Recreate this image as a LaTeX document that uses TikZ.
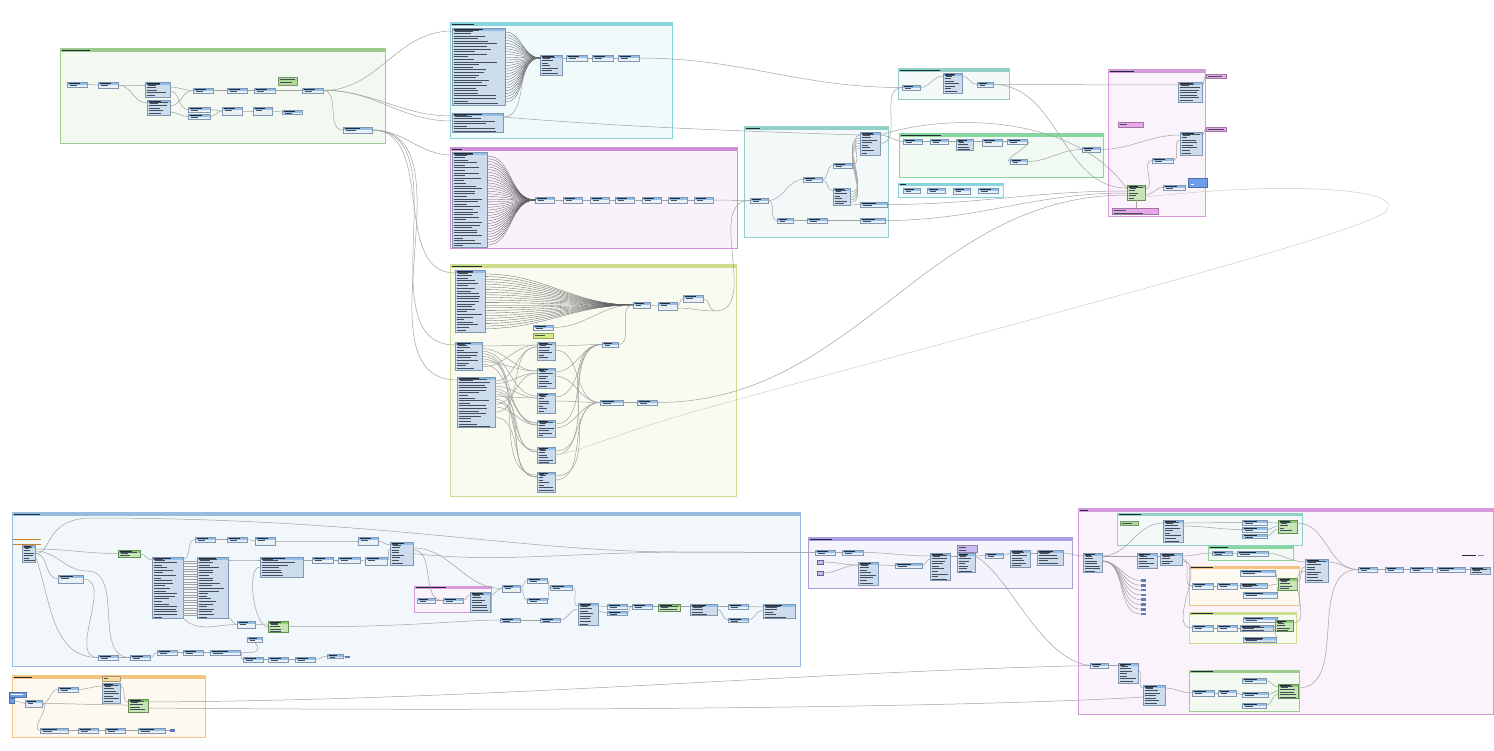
\documentclass[tikz,border=0pt]{standalone}
\usetikzlibrary{positioning}

\definecolor{xfhead}{HTML}{92BFE9}
\definecolor{xfbody}{HTML}{EAF0F6}
\definecolor{lstbody}{HTML}{CCDCEC}
\definecolor{xfline}{HTML}{7F97B2}
\definecolor{xfink}{HTML}{1E2A3A}
\definecolor{xfrow}{HTML}{444D5A}
\definecolor{gnhead}{HTML}{8CCB74}
\definecolor{gnbody}{HTML}{C6E4B4}
\definecolor{wirecol}{HTML}{A2A2A2}
\definecolor{fancol}{HTML}{5E5E5E}
\definecolor{gGreen}{HTML}{9DCB8B}
\definecolor{gCyan}{HTML}{88D3DE}
\definecolor{gMagenta}{HTML}{CF8FD6}
\definecolor{gLime}{HTML}{CCDD8E}
\definecolor{gTeal}{HTML}{90D0C7}
\definecolor{gMint}{HTML}{86D69E}
\definecolor{gBlue}{HTML}{96BCE0}
\definecolor{gPurple}{HTML}{AA9EE0}
\definecolor{gOrange}{HTML}{F2C47F}
\definecolor{gPink}{HTML}{D699DB}
\definecolor{noteGreen}{HTML}{AED895}
\definecolor{notePink}{HTML}{E6A8E8}
\definecolor{noteLime}{HTML}{D8EA86}
\definecolor{notePurple}{HTML}{C9BBF1}
\definecolor{noteOrange}{HTML}{F7DCA6}
\definecolor{btnblue}{HTML}{6E9EEA}
\definecolor{stubcol}{HTML}{5D7FB5}

% header band and text strokes of a transformer
\newcommand\headstrip[2]{%
  \fill[#1] (path picture bounding box.north west) rectangle ([yshift=-2.6pt]path picture bounding box.north east);
  \draw[xfink, line width=0.9pt] ([xshift=1.5pt,yshift=-1.3pt]path picture bounding box.north west) -- ++({0.55*#2*1pt},0pt);
  \draw[xfrow, line width=0.8pt] ([xshift=2.5pt,yshift=-3.8pt]path picture bounding box.north west) -- ++({0.35*#2*1pt},0pt);}
% attribute rows of a list
\newcommand\rowstrips[2]{%
  \foreach \k in {1,...,36}{\draw[xfrow, line width=0.95pt] ([xshift=1.5pt,yshift={-(#2+\k*2.6)*1pt}]path picture bounding box.north west) -- ++({(0.25+0.6*rnd)*#1*1pt},0pt);}}

\tikzset{
  wire/.style={draw=wirecol, line width=0.5pt},
  fan/.style={draw=fancol, line width=0.3pt},
  grpbox/.style={draw=#1, line width=1pt, fill=#1!12},
  xfbox/.style n args={2}{rectangle, draw=xfline, line width=0.3pt, inner sep=0pt, outer sep=0pt, anchor=north west, minimum width=#1pt, minimum height=#2pt},
  xf/.style n args={2}{xfbox={#1}{#2}, fill=xfbody, path picture={\headstrip{xfhead}{#1}}},
  lst/.style n args={2}{xfbox={#1}{#2}, fill=lstbody, path picture={\headstrip{xfhead}{#1}\rowstrips{#1}{0.3}}},
  gxf/.style n args={2}{xfbox={#1}{#2}, draw=gnhead!70!black, fill=gnbody, path picture={\headstrip{gnhead}{#1}\rowstrips{#1}{0.3}}},
  note/.style n args={3}{xfbox={#1}{#2}, draw=#3!70!black, fill=#3, path picture={\rowstrips{#1}{-2.4}}},
  bluebtn/.style n args={2}{xfbox={#1}{#2}, draw=btnblue!70!black, fill=btnblue},
  icon/.style={xfbox={6}{4}, draw=gPurple!60!black, fill=notePurple},
  stubnode/.style={rectangle, fill=stubcol, inner sep=0pt, minimum width=5pt, minimum height=2.5pt, anchor=west},
}

\begin{document}
\begin{tikzpicture}[x=1pt, y=-1pt]
	\useasboundingbox (0,0) rectangle (1494,750);
	\fill[white] (0,0) rectangle (1494,750);

	% groups
	\draw[grpbox=gGreen] (60,48) rectangle (385,143);
	\fill[gGreen] (60,48) rectangle (385,51.5);
	\draw[grpbox=gCyan] (450,22) rectangle (672,138);
	\fill[gCyan] (450,22) rectangle (672,25.5);
	\draw[grpbox=gMagenta] (450,147) rectangle (737,248);
	\fill[gMagenta] (450,147) rectangle (737,150.5);
	\draw[grpbox=gLime] (450,264) rectangle (736,496);
	\fill[gLime] (450,264) rectangle (736,267.5);
	\draw[grpbox=gTeal] (744,126) rectangle (888,237);
	\fill[gTeal] (744,126) rectangle (888,129.5);
	\draw[grpbox=gTeal] (898,68) rectangle (1009,99);
	\fill[gTeal] (898,68) rectangle (1009,71.5);
	\draw[grpbox=gMint] (899,133) rectangle (1103,177);
	\fill[gMint] (899,133) rectangle (1103,136.5);
	\draw[grpbox=gCyan] (898,183) rectangle (1003,197);
	\fill[gCyan] (898,183) rectangle (1003,186);
	\draw[grpbox=gPink] (1108,69) rectangle (1205,216);
	\fill[gPink] (1108,69) rectangle (1205,72.5);
	\draw[grpbox=gBlue] (12,512) rectangle (800,666);
	\fill[gBlue] (12,512) rectangle (800,515.5);
	\draw[grpbox=gPink] (414,586) rectangle (491,612);
	\fill[gPink] (414,586) rectangle (491,589);
	\draw[grpbox=gPurple] (808,537) rectangle (1072,588);
	\fill[gPurple] (808,537) rectangle (1072,540.5);
	\draw[grpbox=gPink] (1078,508) rectangle (1493,714);
	\fill[gPink] (1078,508) rectangle (1493,511.5);
	\draw[grpbox=gTeal] (1117,513) rectangle (1302,545);
	\fill[gTeal] (1117,513) rectangle (1302,516);
	\draw[grpbox=gMint] (1208,546) rectangle (1293,560);
	\fill[gMint] (1208,546) rectangle (1293,549);
	\draw[grpbox=gOrange] (1189,566) rectangle (1299,605);
	\fill[gOrange] (1189,566) rectangle (1299,569);
	\draw[grpbox=gLime] (1189,612) rectangle (1296,643);
	\fill[gLime] (1189,612) rectangle (1296,615);
	\draw[grpbox=gGreen] (1189,670) rectangle (1299,711);
	\fill[gGreen] (1189,670) rectangle (1299,673);
	\draw[grpbox=gOrange] (12,675) rectangle (205,737);
	\fill[gOrange] (12,675) rectangle (205,678.5);
	\foreach \gx/\gy/\gl in {62/49.8/28, 452/23.8/22, 452/148.8/10, 452/265.8/30, 746/127.8/14, 900/69.8/40, 901/134.8/40, 900/184.5/6, 1110/70.8/24, 14/513.8/26, 416/587.5/30, 810/538.8/22, 1080/509.8/8, 1119/514.5/22, 1210/547.5/18, 1191/567.5/22, 1191/613.5/22, 1191/671.5/22, 14/676.8/18}
		\draw[xfink, line width=0.6pt] (\gx,\gy) -- ++(\gl pt,0pt);

	% top left
	\node[xf={20}{5}] (a1) at (67,82) {};
	\node[xf={20}{6}] (a2) at (98,82) {};
	\node[lst={25}{15}] (a3) at (145,82) {};
	\node[lst={23}{15}] (a4) at (147,100) {};
	\node[xf={20}{5}] (a5) at (193,88) {};
	\node[xf={20}{5}] (a6) at (227,88) {};
	\node[xf={21}{5}] (a7) at (254,88) {};
	\node[note={19}{8}{noteGreen}] (a8) at (278,77) {};
	\node[xf={21}{5}] (a9) at (302,88) {};
	\node[xf={22}{5}] (a10) at (188,107) {};
	\node[xf={22}{5}] (a11) at (188,114) {};
	\node[xf={20}{8}] (a12) at (222,107) {};
	\node[xf={19}{8}] (a13) at (253,107) {};
	\node[xf={20}{4}] (a14) at (282,110) {};
	\node[xf={29}{6}] (a15) at (343,127) {};

	\draw[wire] (a1.east) to[out=0,in=180] (a2.west);
	\draw[wire] (a2.east) to[out=0,in=180] ([yshift=-3pt]a3.north west);
	\draw[wire] (a2.east) to[out=0,in=180] ([yshift=-3pt]a4.north west);
	\draw[wire] ([yshift=-5pt]a3.north east) to[out=0,in=180] (a5.west);
	\draw[wire] ([yshift=-9pt]a3.north east) to[out=0,in=180] (a10.west);
	\draw[wire] ([yshift=-6pt]a4.north east) to[out=0,in=180] (a5.west);
	\draw[wire] ([yshift=-12pt]a4.north east) to[out=0,in=180] (a11.west);
	\draw[wire] (a5.east) to[out=0,in=180] (a6.west);
	\draw[wire] (a6.east) to[out=0,in=180] (a7.west);
	\draw[wire] (a7.east) to[out=0,in=180] (a9.west);
	\draw[wire] (a10.east) to[out=0,in=180] (a12.west);
	\draw[wire] (a11.east) to[out=0,in=180] (a12.west);
	\draw[wire] (a12.east) to[out=0,in=180] (a13.west);
	\draw[wire] (a13.east) to[out=0,in=180] (a14.west);
	\draw[wire] (a9.east) to[out=0,in=180] (a15.west);

	% cyan
	\node[lst={53}{77}] (c1) at (452,28) {};
	\node[lst={51}{19}] (c2) at (452,113) {};
	\node[lst={22}{20}] (c3) at (540,55) {};
	\node[xf={21}{6}] (c4) at (566,55) {};
	\node[xf={21}{6}] (c5) at (592,55) {};
	\node[xf={21}{6}] (c6) at (618,55) {};
	\foreach \k in {0,...,25}
		\draw[fan] ([yshift={-(4+\k*2.8)*1pt}]c1.north east) to[out=0,in=180] ([yshift=-3pt]c3.north west);
	\draw[wire] ([yshift=-4pt]c2.north east) to[out=0,in=180] ([yshift=-3pt]c3.north west);
	\draw[wire] (c3.east |- c4.west) -- (c4.west);
	\draw[wire] (c4.east) -- (c5.west);
	\draw[wire] (c5.east) -- (c6.west);

	% magenta
	\node[lst={35}{95}] (m0) at (452,152) {};
	\foreach \i/\mx in {1/535,2/563,3/590,4/615,5/642,6/668,7/694}
		\node[xf={19}{6}] (m\i) at (\mx,197) {};
	\foreach \k in {0,...,33}
		\draw[fan] ([yshift={-(4+\k*2.7)*1pt}]m0.north east) to[out=0,in=180] (m1.west);
	\foreach \i/\j in {1/2,2/3,3/4,4/5,5/6,6/7}
		\draw[wire] (m\i.east) -- (m\j.west);

	% lime
	\node[lst={30}{62}] (y1) at (455,270) {};
	\node[xf={20}{5}] (y2) at (533,325) {};
	\node[note={20}{5}{noteLime}] (y3) at (533,333) {};
	\node[lst={27}{28}] (y4) at (455,342) {};
	\node[lst={38}{50}] (y5) at (457,377) {};
	\node[lst={18}{18}] (k1) at (537,342) {};
	\node[lst={18}{20}] (k2) at (537,368) {};
	\node[lst={18}{20}] (k3) at (537,393) {};
	\node[lst={18}{17}] (k4) at (537,420) {};
	\node[lst={18}{16}] (k5) at (537,447) {};
	\node[lst={18}{20}] (k6) at (537,472) {};
	\node[xf={16}{5}] (y6) at (602,342) {};
	\node[xf={23}{5}] (y7) at (600,400) {};
	\node[xf={20}{5}] (y8) at (637,400) {};
	\node[xf={17}{6}] (y9) at (633,302) {};
	\node[xf={19}{8}] (y10) at (658,302) {};
	\node[xf={20}{7}] (y11) at (683,295) {};
	\coordinate (y12) at (715,311);
	\foreach \k in {0,...,21}
		\draw[fan] ([yshift={-(4+\k*2.6)*1pt}]y1.north east) to[out=0,in=180] (y9.west);
	\draw[wire] (y2.east) to[out=0,in=180] (y9.west);
	\foreach \k/\t in {0/k1,1/k2,2/k3,3/k4,4/k5,5/k6,6/k2,7/k4,8/k1}
		\draw[wire] ([yshift={-(4+\k*2.6)*1pt}]y4.north east) to[out=0,in=180] ([yshift=-3pt]\t.north west);
	\foreach \k/\t in {0/k1,1/k2,2/k3,3/k4,4/k5,5/k6,6/k3,7/k5,8/k6,9/k2,10/k4,12/k1,14/k6}
		\draw[wire] ([yshift={-(4+\k*2.6)*1pt}]y5.north east) to[out=0,in=180] ([yshift=-5pt]\t.north west);
	\foreach \i in {1,...,6}{
		\draw[wire] ([yshift=-4pt]k\i.north east) to[out=0,in=180] (y6.west);
		\draw[wire] ([yshift=-8pt]k\i.north east) to[out=0,in=180] (y7.west);
	}
	\draw[wire] (y6.east) to[out=0,in=180] (y9.west);
	\draw[wire] (y7.east) -- (y8.west);
	\draw[wire] (y9.east) -- (y10.west);
	\draw[wire] (y10.east) to[out=0,in=180] (y11.west);
	\draw[wire] ([yshift=-6pt]y10.north east) to[out=0,in=180] (y12);
	\draw[wire] (y11.east) to[out=0,in=180] (y12);

	% teal
	\node[xf={18}{5}] (t1) at (750,198) {};
	\node[xf={16}{5}] (t2) at (777,218) {};
	\node[xf={19}{5}] (t3) at (803,177) {};
	\node[xf={20}{5}] (t4) at (807,218) {};
	\node[xf={19}{5}] (t5) at (833,163) {};
	\node[lst={17}{17}] (t6) at (833,188) {};
	\node[lst={20}{23}] (t7) at (860,132) {};
	\node[xf={27}{5}] (t8) at (860,202) {};
	\node[xf={25}{5}] (t9) at (860,218) {};
	\draw[wire] (m7.east) to[out=0,in=180] (t1.west);
	\draw[wire] (y12) to[out=0,in=180] (t1.west);
	\draw[wire] (t1.east) to[out=0,in=180] (t3.west);
	\draw[wire] (t1.east) to[out=0,in=180] (t2.west);
	\draw[wire] (t3.east) to[out=0,in=180] (t5.west);
	\draw[wire] (t3.east) to[out=0,in=180] ([yshift=-3pt]t6.north west);
	\draw[wire] (t2.east) -- (t4.west);
	\draw[wire] (t4.east) -- (t9.west);
	\draw[wire] (t5.east) to[out=0,in=180] ([yshift=-3pt]t7.north west);
	\foreach \k in {0,...,4}
		\draw[wire] ([yshift={-(4+\k*2.6)*1pt}]t6.north east) to[out=0,in=180] ([yshift={-(6+\k*2.6)*1pt}]t7.north west);
	\draw[wire] (t6.south east) to[out=0,in=180] (t8.west);

	% teal small, mint, cyan small
	\node[xf={18}{5}] (w1) at (902,85) {};
	\node[lst={19}{20}] (w2) at (943,73) {};
	\node[xf={16}{5}] (w3) at (977,82) {};
	\node[xf={19}{5}] (g1) at (903,139) {};
	\node[xf={18}{5}] (g2) at (930,139) {};
	\node[lst={17}{11}] (g3) at (956,139) {};
	\node[xf={20}{7}] (g4) at (982,139) {};
	\node[xf={20}{5}] (g5) at (1007,139) {};
	\node[xf={17}{5}] (g6) at (1010,159) {};
	\node[xf={18}{5}] (g7) at (1082,147) {};
	\node[xf={17}{5}] (h1) at (903,188) {};
	\node[xf={18}{5}] (h2) at (927,188) {};
	\node[xf={17}{6}] (h3) at (953,188) {};
	\node[xf={20}{5}] (h4) at (978,188) {};
	\draw[wire] (c6.east) to[out=0,in=180] (w1.west);
	\draw[wire] (t7.east) to[out=0,in=180] (w1.west);
	\draw[wire] (w1.east) to[out=0,in=180] ([yshift=-3pt]w2.north west);
	\draw[wire] ([yshift=-3pt]w2.north east) to[out=0,in=180] (w3.west);
	\draw[wire] ([yshift=-3pt]t7.north east) to[out=0,in=180] (g1.west);
	\draw[wire] (g1.east) -- (g2.west);
	\draw[wire] (g2.east) -- ([yshift=-2.5pt]g3.north west);
	\draw[wire] ([yshift=-2.5pt]g3.north east) -- ([yshift=-2.5pt]g4.north west);
	\draw[wire] ([yshift=-2.5pt]g4.north east) -- (g5.west);
	\draw[wire] (g5.east) to[out=0,in=180] (g6.west);
	\draw[wire] (g6.east) to[out=0,in=180] (g7.west);
	\draw[wire] ([yshift=-4pt]c2.north east) .. controls (600,125) and (700,130) .. ([yshift=-3pt]t7.north west);

	% right pink group
	\node[lst={24}{20}] (x1) at (1178,82) {};
	\node[lst={22}{23}] (x2) at (1180,132) {};
	\node[xf={21}{5}] (x3) at (1152,158) {};
	\node[gxf={18}{15}] (x4) at (1127,185) {};
	\node[xf={22}{5}] (x5) at (1163,185) {};
	\node[bluebtn={19}{9}] (x6) at (1188,178) {};
	\node[note={25}{5}{notePink}] (n1) at (1118,122) {};
	\node[note={46}{6}{notePink}] (n2) at (1112,208) {};
	\node[note={20}{4}{notePink}] (o1) at (1206,74) {};
	\node[note={20}{4}{notePink}] (o2) at (1206,127) {};
	\draw[white, line width=0.7pt] ([xshift=3pt,yshift=-6pt]x6.north west) -- ++(3pt,0pt);
	\draw[wire] (w3.east) -- ([yshift=-3pt]x1.north west);
	\draw[wire] (w3.east) to[out=0,in=180] ([yshift=-3pt]x4.north west);
	\draw[wire] ([yshift=-3pt]t7.north east) .. controls (960,110) and (1080,120) .. ([yshift=-4pt]x4.north west);
	\draw[wire] (t8.east) to[out=0,in=180] ([yshift=-6pt]x4.north west);
	\draw[wire] (t9.east) to[out=0,in=180] ([yshift=-8pt]x4.north west);
	\draw[wire] (y8.east) to[out=0,in=180] ([yshift=-10pt]x4.north west);
	\draw[wire] (g7.east) to[out=0,in=180] ([yshift=-3pt]x2.north west);
	\draw[wire] ([yshift=-4pt]x4.north east) to[out=0,in=180] (x3.west);
	\draw[wire] (x3.east) to[out=0,in=180] ([yshift=-8pt]x2.north west);
	\draw[wire] ([yshift=-10pt]x4.north east) to[out=0,in=180] (x5.west);
	\draw[wire] (x4.south) -- (n2.north -| x4.south);
	\draw[wire] ([yshift=-3pt]x1.north east) to[out=0,in=180] (o1.west);
	\draw[wire] ([yshift=-3pt]x2.north east) to[out=0,in=180] (o2.west);
	\draw[wire, draw=wirecol!55] ([yshift=-12pt]x4.north east) .. controls (1300,180) and (1410,190) .. (1385,212)
		.. controls (1360,235) and (950,340) .. (700,410) .. controls (620,432) and (580,452) .. (k5.east);

	% long feeds from the top left group
	\draw[wire] (a9.east) to[out=0,in=180] ([yshift=-3pt]c1.north west);
	\draw[wire] (a9.east) to[out=0,in=180] ([yshift=-3pt]c2.north west);
	\draw[wire] ([yshift=-2pt]a9.north east) to[out=0,in=180] ([yshift=-8pt]c2.north west);
	\draw[wire] (a15.east) to[out=0,in=180] ([yshift=-3pt]m0.north west);
	\draw[wire] (a15.east) to[out=0,in=180] ([yshift=-3pt]y1.north west);
	\draw[wire] (a15.east) to[out=0,in=180] ([yshift=-3pt]y4.north west);
	\draw[wire] (a15.east) to[out=0,in=180] ([yshift=-3pt]y5.north west);

	% bottom blue group
	\draw[draw=brown!70!orange, line width=0.7pt] (13,539) -- (41,539) (13,544) -- (41,544);
	\node[lst={13}{17}] (b1) at (22,545) {};
	\node[gxf={22}{7}] (b2) at (118,550) {};
	\node[xf={25}{8}] (b3) at (58,575) {};
	\coordinate (b4) at (87,571);
	\node[lst={31}{61}] (b5) at (152,557) {};
	\node[lst={31}{61}] (b6) at (197,557) {};
	\node[xf={20}{5}] (b7) at (195,537) {};
	\node[xf={20}{5}] (b8) at (227,537) {};
	\node[xf={20}{8}] (b9) at (255,537) {};
	\node[lst={43}{20}] (b10) at (260,557) {};
	\node[xf={21}{6}] (b11) at (312,557) {};
	\node[xf={22}{6}] (b12) at (338,557) {};
	\node[xf={22}{8}] (b13) at (365,557) {};
	\node[xf={20}{8}] (b14) at (358,537) {};
	\node[lst={23}{23}] (b15) at (390,542) {};
	\node[xf={18}{7}] (b16) at (237,621) {};
	\node[gxf={20}{11}] (b17) at (268,621) {};
	\node[xf={15}{5}] (b18) at (247,637) {};
	\coordinate (b18j) at (258,647);
	\node[xf={20}{5}] (b19) at (98,655) {};
	\node[xf={20}{5}] (b20) at (130,655) {};
	\node[xf={20}{5}] (b21) at (157,650) {};
	\node[xf={20}{5}] (b22) at (183,650) {};
	\node[xf={30}{5}] (b23) at (210,650) {};
	\node[xf={20}{5}] (b24) at (243,657) {};
	\node[xf={20}{5}] (b25) at (268,657) {};
	\node[xf={20}{5}] (b26) at (295,657) {};
	\node[xf={16}{4}] (b27) at (327,654) {};
	\node[stubnode] (b28) at (345,657) {};

	\draw[wire] ([yshift=-4pt]b1.north east) to[out=0,in=180] (b2.west);
	\draw[wire] ([yshift=-6pt]b1.north east) to[out=0,in=180] (b4);
	\draw[wire] ([yshift=-8pt]b1.north east) to[out=0,in=180] (b3.west);
	\draw[wire] ([yshift=-10pt]b1.north east) to[out=-70,in=180] (b19.west);
	\draw[wire] (b3.east) to[out=0,in=180] (b19.west);
	\draw[wire] (b4) to[out=0,in=180] (b20.west);
	\draw[wire] (b2.east) to[out=0,in=180] ([yshift=-3pt]b5.north west);
	\foreach \k in {0,...,21}
		\draw[wire] ([yshift={-(4+\k*2.6)*1pt}]b5.north east) -- ([yshift={-(4+\k*2.6)*1pt}]b6.north west);
	\draw[wire] ([yshift=-2pt]b5.north east) to[out=0,in=180] (b7.west);
	\draw[wire] (b7.east) -- (b8.west);
	\draw[wire] (b8.east) to[out=0,in=180] (b9.west);
	\draw[wire] (b9.east) to[out=0,in=180] (b14.west);
	\draw[wire] (b14.east) to[out=0,in=180] ([yshift=-3pt]b15.north west);
	\draw[wire] ([yshift=-3pt]b6.north east) to[out=0,in=180] ([yshift=-3pt]b10.north west);
	\draw[wire] ([yshift=-3pt]b10.north east) to[out=0,in=180] (b11.west);
	\draw[wire] (b11.east) -- (b12.west);
	\draw[wire] (b12.east) -- (b13.west);
	\draw[wire] (b13.east) to[out=0,in=180] ([yshift=-7pt]b15.north west);
	\draw[wire] (b5.south east) to[out=-45,in=180] (b16.west);
	\draw[wire] (b6.south east) to[out=0,in=180] (b16.west);
	\draw[wire] (b16.east) -- ([yshift=-3pt]b17.north west);
	\draw[wire] ([yshift=-10pt]b10.north west) to[out=180,in=180,looseness=0.6] ([yshift=-6pt]b17.north west);
	\foreach \i/\j in {19/20,20/21,21/22,22/23,23/24,24/25,25/26,26/27,27/28}
		\draw[wire] (b\i.east) to[out=0,in=180] (b\j.west);
	\draw[wire] (b23.east) to[out=0,in=-90] (b18j);
	\draw[wire] (b18.south) -- (b18j);

	% pink subgroup and chain
	\node[xf={18}{5}] (e1) at (417,598) {};
	\node[xf={20}{5}] (e2) at (443,598) {};
	\node[lst={20}{20}] (e3) at (470,592) {};
	\node[xf={18}{7}] (r1) at (502,585) {};
	\node[xf={20}{5}] (r2) at (527,578) {};
	\node[xf={20}{5}] (r3) at (527,598) {};
	\node[xf={22}{5}] (r4) at (550,585) {};
	\node[lst={20}{22}] (r5) at (578,603) {};
	\node[xf={20}{5}] (r6) at (607,604) {};
	\node[xf={20}{4}] (r7) at (607,611) {};
	\node[xf={20}{5}] (r8) at (632,604) {};
	\node[gxf={22}{7}] (r9) at (658,604) {};
	\node[lst={27}{11}] (r10) at (690,604) {};
	\node[xf={20}{5}] (r11) at (728,604) {};
	\node[xf={20}{4}] (r12) at (728,618) {};
	\node[lst={32}{14}] (r13) at (763,604) {};
	\node[xf={20}{4}] (d1) at (500,618) {};
	\node[xf={20}{4}] (d2) at (540,618) {};
	\draw[wire] ([yshift=-6pt]b15.north east) to[out=0,in=180] (r1.west);
	\draw[wire] ([yshift=-8pt]b15.north east) to[out=0,in=180] (e2.west);
	\draw[wire] (e1.east) -- (e2.west);
	\draw[wire] (e2.east) to[out=0,in=180] ([yshift=-3pt]e3.north west);
	\draw[wire] ([yshift=-3pt]e3.north east) to[out=0,in=180] (r1.west);
	\draw[wire] (b17.east) .. controls (400,628) and (460,620) .. (d1.west);
	\draw[wire] (r1.east) to[out=0,in=180] (r2.west);
	\draw[wire] (r1.east) to[out=0,in=180] (r3.west);
	\draw[wire] (r2.east) to[out=0,in=180] (r4.west);
	\draw[wire] (r3.east) to[out=0,in=180] (r4.west);
	\draw[wire] (r4.east) to[out=0,in=180] ([yshift=-3pt]r5.north west);
	\draw[wire] (d1.east) -- (d2.west);
	\draw[wire] (d2.east) to[out=0,in=180] ([yshift=-6pt]r5.north west);
	\draw[wire] ([yshift=-3pt]r5.north east) -- (r6.west);
	\draw[wire] ([yshift=-8pt]r5.north east) to[out=0,in=180] (r7.west);
	\draw[wire] (r6.east) -- (r8.west);
	\draw[wire] (r7.east) to[out=0,in=180] (r8.west);
	\draw[wire] (r8.east) -- ([yshift=-2.5pt]r9.north west);
	\draw[wire] ([yshift=-2.5pt]r9.north east) -- ([yshift=-2.5pt]r10.north west);
	\draw[wire] ([yshift=-2.5pt]r10.north east) to[out=0,in=180] (r11.west);
	\draw[wire] ([yshift=-5pt]r10.north east) to[out=0,in=180] (r12.west);
	\draw[wire] (r11.east) to[out=0,in=180] ([yshift=-3pt]r13.north west);
	\draw[wire] (r12.east) to[out=0,in=180] ([yshift=-6pt]r13.north west);

	% purple group
	\node[xf={20}{5}] (p1) at (815,550) {};
	\node[xf={21}{5}] (p2) at (842,550) {};
	\node[icon] (p3) at (817,560) {};
	\node[icon] (p4) at (817,571) {};
	\node[lst={20}{23}] (p5) at (858,562) {};
	\node[xf={27}{5}] (p6) at (895,563) {};
	\node[lst={20}{27}] (p7) at (930,553) {};
	\node[note={20}{7}{notePurple}] (p8) at (957,545) {};
	\node[lst={18}{19}] (p9) at (957,553) {};
	\node[xf={18}{5}] (p10) at (985,553) {};
	\node[lst={20}{17}] (p11) at (1010,550) {};
	\node[lst={26}{15}] (p12) at (1037,550) {};
	\draw[wire] (b1.east) .. controls (52,555) and (44,519) .. (90,518) .. controls (380,518) and (520,552) .. (680,552) -- (p1.west);
	\draw[wire] (b15.east) .. controls (500,563) and (560,553) .. (680,552) -- (p1.west);
	\draw[wire] (p1.east) -- (p2.west);
	\draw[wire] (p2.east) to[out=0,in=180] ([yshift=-3pt]p7.north west);
	\draw[wire] (p3.east) to[out=0,in=180] ([yshift=-3pt]p5.north west);
	\draw[wire] (p4.east) to[out=0,in=180] ([yshift=-3pt]p5.north west);
	\draw[wire] ([yshift=-3pt]p5.north east) to[out=0,in=180] (p6.west);
	\draw[wire] (p6.east) to[out=0,in=180] ([yshift=-6pt]p7.north west);
	\draw[wire] ([yshift=-3pt]p7.north east) -- ([yshift=-3pt]p9.north west);
	\draw[wire] ([yshift=-3pt]p9.north east) -- (p10.west);
	\draw[wire] (p10.east) to[out=0,in=180] ([yshift=-3pt]p11.north west);
	\draw[wire] ([yshift=-3pt]p11.north east) -- ([yshift=-3pt]p12.north west);

	% big pink group
	\node[lst={19}{19}] (q0) at (1083,553) {};
	\node[lst={20}{15}] (q1) at (1137,553) {};
	\node[lst={22}{12}] (q2) at (1160,553) {};
	\node[note={18}{4}{noteGreen}] (s0) at (1120,521) {};
	\node[lst={20}{22}] (s1) at (1163,520) {};
	\node[xf={25}{5}] (s2) at (1242,520) {};
	\node[xf={25}{5}] (s3) at (1242,527) {};
	\node[xf={25}{4}] (s4) at (1242,534) {};
	\node[gxf={19}{13}] (s5) at (1278,520) {};
	\node[xf={20}{4}] (v1) at (1212,551) {};
	\node[xf={31}{5}] (v2) at (1237,551) {};
	\node[xf={21}{6}] (f1) at (1192,583) {};
	\node[xf={20}{6}] (f2) at (1217,583) {};
	\node[xf={35}{6}] (f3) at (1240,570) {};
	\node[lst={27}{5}] (f4) at (1240,583) {};
	\node[xf={34}{6}] (f5) at (1243,592) {};
	\node[gxf={19}{12}] (f6) at (1278,578) {};
	\node[xf={21}{6}] (l1) at (1192,625) {};
	\node[xf={20}{6}] (l2) at (1217,625) {};
	\node[xf={34}{5}] (l3) at (1243,617) {};
	\node[lst={33}{6}] (l4) at (1240,625) {};
	\node[lst={33}{5}] (l6) at (1243,637) {};
	\node[gxf={18}{11}] (l5) at (1275,620) {};
	\node[lst={23}{23}] (tt) at (1305,559) {};
	\node[xf={19}{5}] (z1) at (1358,567) {};
	\node[xf={18}{5}] (z2) at (1385,567) {};
	\node[xf={22}{5}] (z3) at (1410,567) {};
	\node[xf={28}{5}] (z4) at (1437,567) {};
	\node[lst={20}{7}] (z5) at (1470,567) {};
	\draw[xfink, line width=0.6pt] (1462,555.5) -- (1476,555.5);
	\draw[xfline, line width=0.5pt] (1478,555.5) -- (1484,555.5);
	\node[xf={18}{5}] (u1) at (1090,663) {};
	\node[lst={20}{20}] (u2) at (1118,663) {};
	\node[lst={22}{20}] (u3) at (1143,685) {};
	\node[xf={22}{6}] (i1) at (1192,690) {};
	\node[xf={18}{6}] (i2) at (1218,690) {};
	\node[xf={24}{5}] (i3) at (1242,678) {};
	\node[xf={26}{5}] (i4) at (1242,692) {};
	\node[xf={24}{5}] (i5) at (1242,703) {};
	\node[gxf={20}{14}] (i6) at (1278,684) {};

	\draw[wire] ([yshift=-3pt]p12.north east) to[out=0,in=180] ([yshift=-3pt]q0.north west);
	\draw[wire] ([yshift=-3pt]q0.north east) to[out=0,in=180] ([yshift=-3pt]s1.north west);
	\draw[wire] ([yshift=-3pt]q0.north east) -- ([yshift=-3pt]q1.north west);
	\foreach \k in {0,...,7}{
		\node[stubnode] (st\k) at (1141,{580.5+\k*4.8}) {};
		\draw[wire] ([yshift=-8pt]q0.north east) to[out=0,in=180] (st\k.west);
	}
	\draw[wire] ([yshift=-3pt]q1.north east) -- ([yshift=-3pt]q2.north west);
	\draw[wire] ([yshift=-3pt]q2.north east) to[out=0,in=180] (v1.west);
	\draw[wire] ([yshift=-6pt]q2.north east) to[out=0,in=180] (f1.west);
	\draw[wire] ([yshift=-8pt]q2.north east) to[out=0,in=180] (l1.west);
	\draw[wire] ([yshift=-3pt]s1.north east) to[out=0,in=180] (s2.west);
	\draw[wire] ([yshift=-6pt]s1.north east) to[out=0,in=180] (s3.west);
	\draw[wire] (s2.east) to[out=0,in=180] ([yshift=-3pt]s5.north west);
	\draw[wire] (s3.east) to[out=0,in=180] ([yshift=-6pt]s5.north west);
	\draw[wire] (s4.east) to[out=0,in=180] ([yshift=-9pt]s5.north west);
	\draw[wire] (v1.east) -- (v2.west);
	\draw[wire] (v2.east) to[out=0,in=180] ([yshift=-3pt]tt.north west);
	\draw[wire] (f1.east) -- (f2.west);
	\draw[wire] (f2.east) -- (f4.west);
	\draw[wire] (f3.east) to[out=0,in=180] ([yshift=-3pt]f6.north west);
	\draw[wire] (f4.east) to[out=0,in=180] ([yshift=-6pt]f6.north west);
	\draw[wire] (f5.east) to[out=0,in=180] ([yshift=-9pt]f6.north west);
	\draw[wire] ([yshift=-3pt]f6.north east) to[out=0,in=180] ([yshift=-8pt]tt.north west);
	\draw[wire] (l1.east) -- (l2.west);
	\draw[wire] (l2.east) -- (l4.west);
	\draw[wire] (l3.east) to[out=0,in=180] ([yshift=-3pt]l5.north west);
	\draw[wire] (l4.east) to[out=0,in=180] ([yshift=-6pt]l5.north west);
	\draw[wire] (l6.east) to[out=0,in=180] ([yshift=-9pt]l5.north west);
	\draw[wire] ([yshift=-3pt]l5.north east) to[out=0,in=180] ([yshift=-12pt]tt.north west);
	\draw[wire] ([yshift=-3pt]tt.north east) to[out=0,in=180] (z1.west);
	\draw[wire] ([yshift=-3pt]s5.north east) to[out=0,in=180] (z1.west);
	\foreach \i/\j in {1/2,2/3,3/4}
		\draw[wire] (z\i.east) -- (z\j.west);
	\draw[wire] (z4.east) -- ([yshift=-2.5pt]z5.north west);
	\draw[wire] ([yshift=-3pt]p9.north east) .. controls (1010,575) and (1040,660) .. (u1.west);
	\draw[wire] (u1.east) -- ([yshift=-2.5pt]u2.north west);
	\draw[wire] ([yshift=-8pt]u2.north east) to[out=0,in=180] ([yshift=-3pt]u3.north west);
	\draw[wire] ([yshift=-3pt]u3.north east) to[out=0,in=180] (i1.west);
	\draw[wire] (i1.east) -- (i2.west);
	\draw[wire] (i2.east) -- (i4.west);
	\draw[wire] (i3.east) to[out=0,in=180] ([yshift=-3pt]i6.north west);
	\draw[wire] (i4.east) to[out=0,in=180] ([yshift=-7pt]i6.north west);
	\draw[wire] (i5.east) to[out=0,in=180] ([yshift=-10pt]i6.north west);
	\draw[wire] ([yshift=-4pt]i6.north east) to[out=0,in=180] (z1.west);

	% bottom left orange group
	\node[bluebtn={17}{5}] (bl) at (9,692) {};
	\node[bluebtn={5}{5}] (bs) at (9,698) {};
	\node[xf={17}{7}] (j1) at (25,700) {};
	\node[xf={20}{5}] (j2) at (58,687) {};
	\node[note={18}{5}{noteOrange}] (j0) at (102,676) {};
	\node[lst={18}{20}] (j3) at (102,683) {};
	\node[gxf={20}{13}] (j4) at (128,699) {};
	\node[xf={28}{5}] (j5) at (40,728) {};
	\node[xf={20}{5}] (j6) at (78,728) {};
	\node[xf={20}{5}] (j7) at (105,728) {};
	\node[xf={27}{5}] (j8) at (138,728) {};
	\node[stubnode] (j9) at (170,730.5) {};
	\draw[white, line width=0.6pt] ([xshift=2pt,yshift=-2.5pt]bl.north west) -- ++(12pt,0pt);
	\draw[wire] (bs.east) -- (j1.west);
	\draw[wire] (j1.east) to[out=0,in=180] (j2.west);
	\draw[wire] (j1.east) to[out=0,in=180] ([yshift=-6pt]j4.north west);
	\draw[wire] (j1.east) to[out=0,in=180] (j5.west);
	\draw[wire] (j2.east) to[out=0,in=180] ([yshift=-3pt]j3.north west);
	\draw[wire] ([yshift=-3pt]j3.north east) to[out=0,in=180] ([yshift=-3pt]j4.north west);
	\draw[wire] (j5.east) -- (j6.west);
	\draw[wire] (j6.east) -- (j7.west);
	\draw[wire] (j7.east) -- (j8.west);
	\draw[wire] (j8.east) -- (j9.west);
	\draw[wire] ([yshift=-3pt]j4.north east) .. controls (500,700) and (800,672) .. (u1.west);
	\draw[wire] ([yshift=-9pt]j4.north east) .. controls (600,712) and (1000,706) .. ([yshift=-12pt]u3.north west);
\end{tikzpicture}
\end{document}
